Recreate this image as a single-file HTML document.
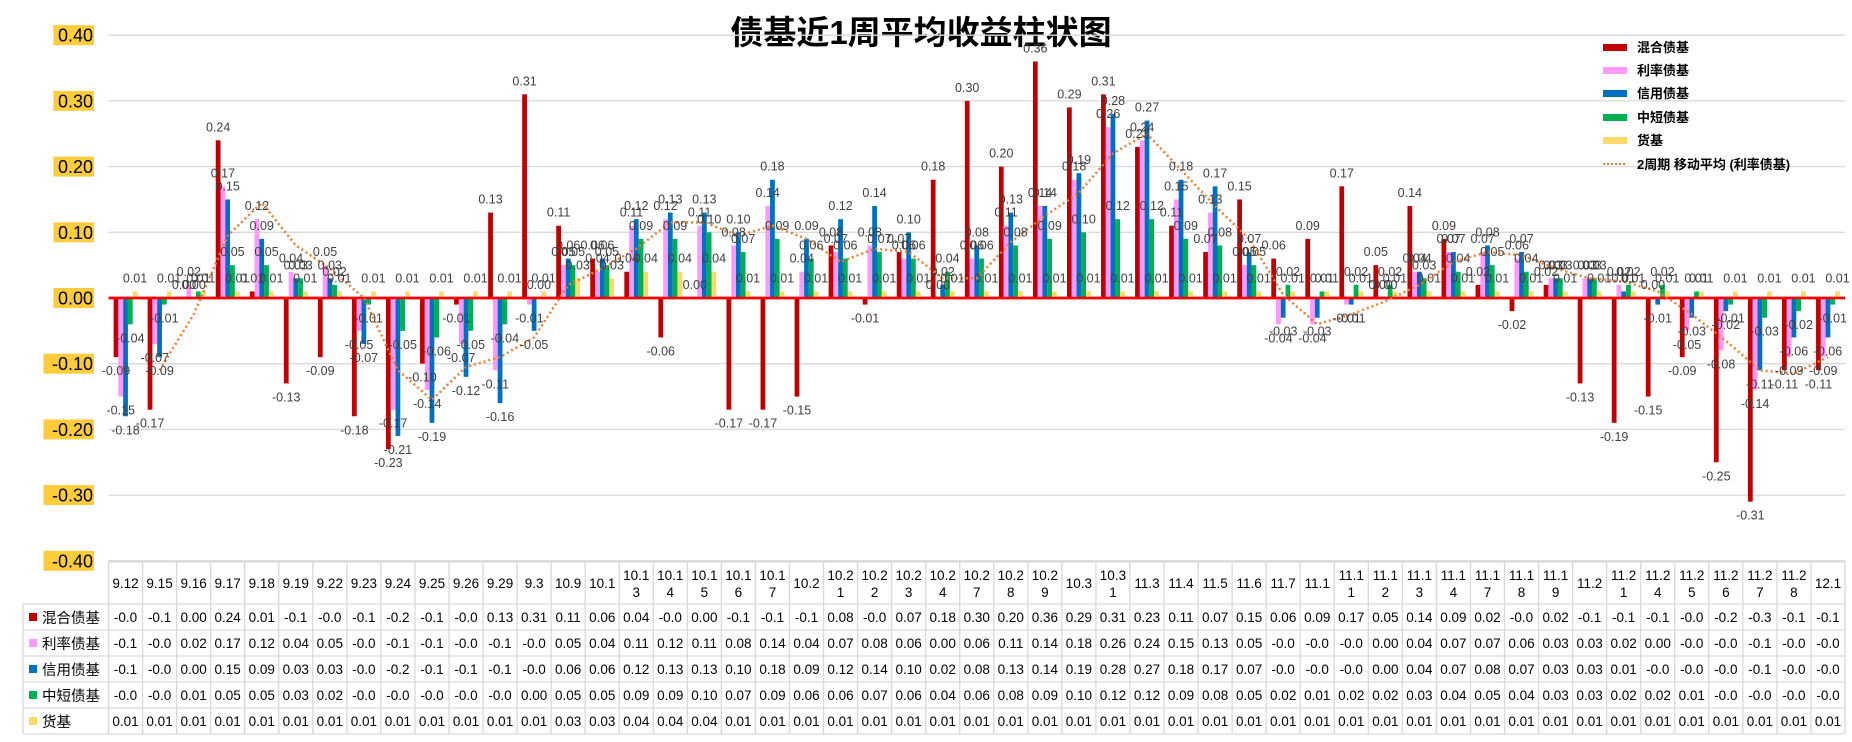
<!DOCTYPE html>
<html><head><meta charset="utf-8"><style>
body{margin:0;background:#fff;}
svg{display:block;font-family:"Liberation Sans","Noto Sans CJK SC",sans-serif;}
</style></head><body>
<svg id="chart" width="1852" height="742" viewBox="0 0 1852 742" xmlns="http://www.w3.org/2000/svg">
<rect x="0" y="0" width="1852" height="742" fill="#fff"/>
<text x="921" y="44" text-anchor="middle" font-size="33" font-weight="bold" fill="#000" font-family="'Liberation Sans','Noto Sans CJK SC',sans-serif">债基近1周平均收益柱状图</text>
<g id="grid"></g><g id="yaxis"></g><g id="bars"></g><g id="labels"></g><g id="ma"></g><g id="legend"></g><g id="table"></g>
</svg>
<script>
const categories=["9.12","9.15","9.16","9.17","9.18","9.19","9.22","9.23","9.24","9.25","9.26","9.29","9.3","10.9","10.1","10.13","10.14","10.15","10.16","10.17","10.2","10.21","10.22","10.23","10.24","10.27","10.28","10.29","10.3","10.31","11.3","11.4","11.5","11.6","11.7","11.1","11.11","11.12","11.13","11.14","11.17","11.18","11.19","11.2","11.21","11.24","11.25","11.26","11.27","11.28","12.1"];
const mixed=[-0.09,-0.17,0.00,0.24,0.01,-0.13,-0.09,-0.18,-0.23,-0.10,-0.01,0.13,0.31,0.11,0.06,0.04,-0.06,0.00,-0.17,-0.17,-0.15,0.08,-0.01,0.07,0.18,0.30,0.20,0.36,0.29,0.31,0.23,0.11,0.07,0.15,0.06,0.09,0.17,0.05,0.14,0.09,0.02,-0.02,0.02,-0.13,-0.19,-0.15,-0.09,-0.25,-0.31,-0.11,-0.11];
const rate=[-0.15,-0.07,0.02,0.17,0.12,0.04,0.05,-0.05,-0.17,-0.14,-0.07,-0.11,-0.01,0.05,0.04,0.11,0.12,0.11,0.08,0.14,0.04,0.07,0.08,0.06,0.00,0.06,0.11,0.14,0.18,0.26,0.24,0.15,0.13,0.05,-0.04,-0.04,-0.01,0.00,0.04,0.07,0.07,0.06,0.03,0.03,0.02,0.00,-0.05,-0.08,-0.14,-0.09,-0.09];
const credit=[-0.18,-0.09,0.00,0.15,0.09,0.03,0.03,-0.07,-0.21,-0.19,-0.12,-0.16,-0.05,0.06,0.06,0.12,0.13,0.13,0.10,0.18,0.09,0.12,0.14,0.10,0.02,0.08,0.13,0.14,0.19,0.28,0.27,0.18,0.17,0.07,-0.03,-0.03,-0.01,0.00,0.04,0.07,0.08,0.07,0.03,0.03,0.01,-0.01,-0.03,-0.02,-0.11,-0.06,-0.06];
const shortMid=[-0.04,-0.01,0.01,0.05,0.05,0.03,0.02,-0.01,-0.05,-0.06,-0.05,-0.04,0.00,0.05,0.05,0.09,0.09,0.10,0.07,0.09,0.06,0.06,0.07,0.06,0.04,0.06,0.08,0.09,0.10,0.12,0.12,0.09,0.08,0.05,0.02,0.01,0.02,0.02,0.03,0.04,0.05,0.04,0.03,0.03,0.02,0.02,0.01,-0.01,-0.03,-0.02,-0.01];
const money=[0.01,0.01,0.01,0.01,0.01,0.01,0.01,0.01,0.01,0.01,0.01,0.01,0.01,0.03,0.03,0.04,0.04,0.04,0.01,0.01,0.01,0.01,0.01,0.01,0.01,0.01,0.01,0.01,0.01,0.01,0.01,0.01,0.01,0.01,0.01,0.01,0.01,0.01,0.01,0.01,0.01,0.01,0.01,0.01,0.01,0.01,0.01,0.01,0.01,0.01,0.01];
const seriesNames=["混合债基","利率债基","信用债基","中短债基","货基"];
const yTicks=[0.40,0.30,0.20,0.10,0.00,-0.10,-0.20,-0.30,-0.40];

const NS="http://www.w3.org/2000/svg";
const X0=108.5,X1=1845,N=categories.length,CW=(X1-X0)/N;
const Y0=298,K=657;
const yS=v=>Y0-v*K;
const xS=i=>X0+i*CW;
function mk(tag,attrs,parent){const e=document.createElementNS(NS,tag);for(const k in attrs)e.setAttribute(k,attrs[k]);if(parent)parent.appendChild(e);return e;}
const series=[mixed,rate,credit,shortMid,money];
const colors=["#C00000","#FF99FF","#0070C0","#00B050","#FFD966"];
const G=id=>document.getElementById(id);

// grid + y axis
yTicks.forEach(t=>{
  const y=yS(t);
  if(Math.abs(t)>1e-9){const l=mk('line',{x1:X0,x2:X1,y1:y,y2:y,stroke:'#d9d9d9','stroke-width':1.3},G('grid'));
  
  }
  const lab=t.toFixed(2);
  const bg=mk('rect',{x:93-lab.length*9.9,y:y-10,width:lab.length*9.9+1,height:20,fill:'#FFCD3C'},G('yaxis'));
  
  
  const tx=mk('text',{x:93,y:y+6.5,'text-anchor':'end','font-size':18,fill:'#000'},G('yaxis'));
  tx.textContent=lab;
  
  
});

// bars + labels
const BW=CW*0.14,GO=CW*0.15;
series.forEach((s,si)=>{
  s.forEach((v,i)=>{
    const x=xS(i)+GO+si*BW;
    const y=yS(Math.max(v,0)),h=Math.abs(yS(v)-Y0);
    const r=mk('rect',{x:x,y:y,width:BW,height:Math.max(h,0.01),fill:colors[si]},G('bars'));
    
    
    const ly=v>=0?yS(v)-9:yS(v)+18;
    const t=mk('text',{x:x+BW/2,y:ly,'text-anchor':'middle','font-size':12.5,fill:'#404040'},G('labels'));
    t.textContent=v.toFixed(2);
    
    
  });
});
// zero line
const z=mk('line',{x1:X0,x2:X1,y1:Y0,y2:Y0,stroke:'#FF0000','stroke-width':2.5},G('grid'));


G('grid').parentNode.insertBefore(G('grid'),G('bars'));
G('bars').parentNode.appendChild(G('labels'));
const zl=z.cloneNode();G('bars').appendChild(zl);



// moving average
let pts=[];
for(let i=1;i<N;i++){pts.push((xS(i)+CW/2).toFixed(1)+','+yS((rate[i]+rate[i-1])/2).toFixed(1));}
const ma=mk('polyline',{points:pts.join(' '),fill:'none',stroke:'#ED7D31','stroke-width':2.5,'stroke-dasharray':'2 3'},G('ma'));



// legend
const legY=[47,70,93,117,140];
seriesNames.forEach((n,si)=>{
  const r=mk('rect',{x:1603,y:legY[si]-3,width:24,height:7,fill:colors[si]},G('legend'));
  
  
  const t=mk('text',{x:1637,y:legY[si]+5,'font-size':13,'font-weight':'bold',fill:'#000'},G('legend'));
  t.textContent=n;
  
  
});
const ll=mk('line',{x1:1603,x2:1627,y1:164,y2:164,stroke:'#ED7D31','stroke-width':2,'stroke-dasharray':'2 2'},G('legend'));


const lt=mk('text',{x:1637,y:169,'font-size':13,'font-weight':'bold',fill:'#000'},G('legend'));
lt.textContent='2周期 移动平均 (利率债基)';



// table
const T=G('table');const TT=562,HH=42,RH=26,TL=23;
const bc='#d9d9d9';
mk('line',{x1:X0,x2:X1,y1:TT,y2:TT,stroke:bc,'stroke-width':1.3},T);
mk('line',{x1:TL,x2:X1,y1:TT+HH,y2:TT+HH,stroke:bc,'stroke-width':1.3},T);
for(let r=1;r<=5;r++)mk('line',{x1:TL,x2:X1,y1:TT+HH+r*RH,y2:TT+HH+r*RH,stroke:bc,'stroke-width':1.3},T);
mk('line',{x1:TL,x2:TL,y1:TT+HH,y2:TT+HH+5*RH,stroke:bc,'stroke-width':1.3},T);
for(let i=0;i<=N;i++)mk('line',{x1:xS(i),x2:xS(i),y1:TT,y2:TT+HH+5*RH,stroke:bc,'stroke-width':1.3},T);
const fmt=v=>v<0?'-'+(Math.floor(Math.abs(v)*10+1e-9)/10).toFixed(1):v.toFixed(2);
categories.forEach((c,i)=>{
  const cx=xS(i)+CW/2;
  const lines=c.length>4?[c.slice(0,4),c.slice(4)]:[c];
  lines.forEach((ln,k)=>{
    const y=lines.length===1?TT+HH/2+5:TT+HH/2-3+k*17;
    const t=mk('text',{x:cx,y:y,'text-anchor':'middle','font-size':13.5,fill:'#000'},T);
    t.textContent=ln;
    
    
  });
  series.forEach((s,si)=>{
    const t=mk('text',{x:cx,y:TT+HH+si*RH+18,'text-anchor':'middle','font-size':13.5,fill:'#000'},T);
    t.textContent=fmt(s[i]);
    
    
  });
});
seriesNames.forEach((n,si)=>{
  const y=TT+HH+si*RH;
  const r=mk('rect',{x:29,y:y+9,width:8,height:8,fill:colors[si]},T);
  
  
  const t=mk('text',{x:42,y:y+19,'font-size':14.5,fill:'#000'},T);
  t.textContent=n;
  
  
});
</script>
</body></html>
